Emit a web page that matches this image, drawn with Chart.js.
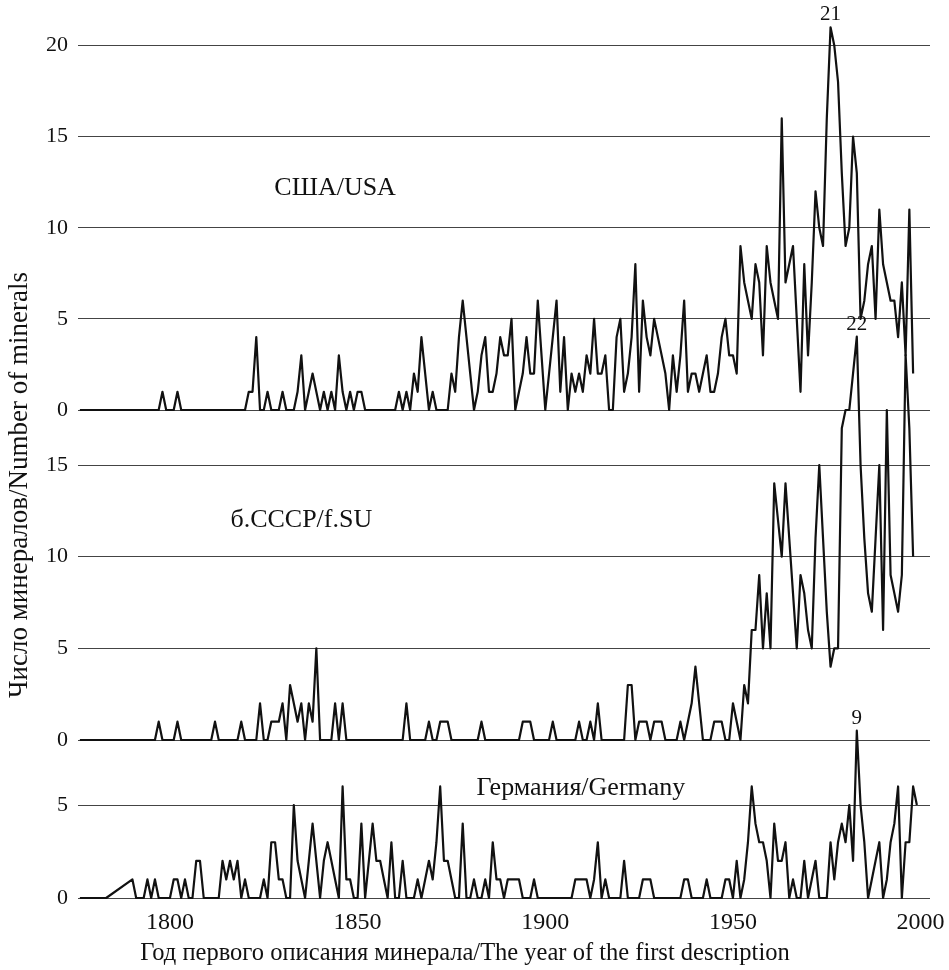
<!DOCTYPE html>
<html>
<head>
<meta charset="utf-8">
<script src="https://cdn.jsdelivr.net/npm/chart.js@4"></script>
<style>
  html, body { margin: 0; padding: 0; background: #fff; }
</style>
</head>
<body>
<canvas id="chart" width="949" height="970"></canvas>
<script>
// yearly counts, first value is 1776
const FIRST_YEAR = 1776;

const USA = [
  0, 0, 0, 0,                       // 1776-1779
  0, 0, 0, 0, 0, 0, 0, 0, 0, 0,     // 1780s
  0, 0, 0, 0, 0, 0, 0, 0, 1, 0,     // 1790s
  0, 0, 1, 0, 0, 0, 0, 0, 0, 0,     // 1800s
  0, 0, 0, 0, 0, 0, 0, 0, 0, 0,     // 1810s
  0, 1, 1, 4, 0, 0, 1, 0, 0, 0,     // 1820s
  1, 0, 0, 0, 1, 3, 0, 1, 2, 1,     // 1830s
  0, 1, 0, 1, 0, 3, 1, 0, 1, 0,     // 1840s
  1, 1, 0, 0, 0, 0, 0, 0, 0, 0,     // 1850s
  0, 1, 0, 1, 0, 2, 1, 4, 2, 0,     // 1860s
  1, 0, 0, 0, 0, 2, 1, 4, 6, 4,     // 1870s
  2, 0, 1, 3, 4, 1, 1, 2, 4, 3,     // 1880s
  3, 5, 0, 1, 2, 4, 2, 2, 6, 3,     // 1890s
  0, 2, 4, 6, 1, 4, 0, 2, 1, 2,     // 1900s
  1, 3, 2, 5, 2, 2, 3, 0, 0, 4,     // 1910s
  5, 1, 2, 4, 8, 1, 6, 4, 3, 5,     // 1920s
  4, 3, 2, 0, 3, 1, 3, 6, 1, 2,     // 1930s
  2, 1, 2, 3, 1, 1, 2, 4, 5, 3,     // 1940s
  3, 2, 9, 7, 6, 5, 8, 7, 3, 9,     // 1950s
  7, 6, 5, 16, 7, 8, 9, 5, 1, 8,    // 1960s
  3, 7, 12, 10, 9, 16, 21, 20, 18, 13, // 1970s
  9, 10, 15, 13, 5, 6, 8, 9, 5, 11, // 1980s
  8, 7, 6, 6, 4, 7, 3, 11, 2        // 1990-1998
];

const SU = [
  0, 0, 0, 0,
  0, 0, 0, 0, 0, 0, 0, 0, 0, 0,     // 1780s
  0, 0, 0, 0, 0, 0, 0, 1, 0, 0,     // 1790s
  0, 0, 1, 0, 0, 0, 0, 0, 0, 0,     // 1800s
  0, 0, 1, 0, 0, 0, 0, 0, 0, 1,     // 1810s
  0, 0, 0, 0, 2, 0, 0, 1, 1, 1,     // 1820s
  2, 0, 3, 2, 1, 2, 0, 2, 1, 5,     // 1830s
  0, 0, 0, 0, 2, 0, 2, 0, 0, 0,     // 1840s
  0, 0, 0, 0, 0, 0, 0, 0, 0, 0,     // 1850s
  0, 0, 0, 2, 0, 0, 0, 0, 0, 1,     // 1860s
  0, 0, 1, 1, 1, 0, 0, 0, 0, 0,     // 1870s
  0, 0, 0, 1, 0, 0, 0, 0, 0, 0,     // 1880s
  0, 0, 0, 0, 1, 1, 1, 0, 0, 0,     // 1890s
  0, 0, 1, 0, 0, 0, 0, 0, 0, 1,     // 1900s
  0, 0, 1, 0, 2, 0, 0, 0, 0, 0,     // 1910s
  0, 0, 3, 3, 0, 1, 1, 1, 0, 1,     // 1920s
  1, 1, 0, 0, 0, 0, 1, 0, 1, 2,     // 1930s
  4, 2, 0, 0, 0, 1, 1, 1, 0, 0,     // 1940s
  2, 1, 0, 3, 2, 6, 6, 9, 5, 8,     // 1950s
  5, 14, 12, 10, 14, 11, 8, 5, 9, 8, // 1960s
  6, 5, 11, 15, 11, 7, 4, 5, 5, 17, // 1970s
  18, 18, 20, 22, 15, 11, 8, 7, 11, 15, // 1980s
  6, 18, 9, 8, 7, 9, 21, 17, 10     // 1990-1998
];

// null = no year plotted (line joins across)
const GERMANY = [
  0, 0, 0, 0,
  0, 0, 0, 0, null, null, null, null, null, null, // 1780s
  1, 0, 0, 0, 1, 0, 1, 0, 0, 0,     // 1790s
  0, 1, 1, 0, 1, 0, 0, 2, 2, 0,     // 1800s
  0, 0, 0, 0, 2, 1, 2, 1, 2, 0,     // 1810s
  1, 0, 0, 0, 0, 1, 0, 3, 3, 1,     // 1820s
  1, 0, 0, 5, 2, 1, 0, 2, 4, 2,     // 1830s
  0, 2, 3, 2, 1, 0, 6, 1, 1, 0,     // 1840s
  0, 4, 0, 2, 4, 2, 2, 1, 0, 3,     // 1850s
  0, 0, 2, 0, 0, 0, 1, 0, 1, 2,     // 1860s
  1, 3, 6, 2, 2, 1, 0, 0, 4, 0,     // 1870s
  0, 1, 0, 0, 1, 0, 3, 1, 1, 0,     // 1880s
  1, 1, 1, 1, 0, 0, 0, 1, 0, 0,     // 1890s
  0, 0, 0, 0, 0, 0, 0, 0, 1, 1,     // 1900s
  1, 1, 0, 1, 3, 0, 1, 0, 0, 0,     // 1910s
  0, 2, 0, 0, 0, 0, 1, 1, 1, 0,     // 1920s
  0, 0, 0, 0, 0, 0, 0, 1, 1, 0,     // 1930s
  0, 0, 0, 1, 0, 0, 0, 0, 1, 1,     // 1940s
  0, 2, 0, 1, 3, 6, 4, 3, 3, 2,     // 1950s
  0, 4, 2, 2, 3, 0, 1, 0, 0, 2,     // 1960s
  0, 1, 2, 0, 0, 0, 3, 1, 3, 4,     // 1970s
  3, 5, 2, 9, 5, 3, 0, 1, 2, 3,     // 1980s
  0, 1, 3, 4, 6, 0, 3, 3, 6, 5      // 1990s
];

const X_TICKS = [1800, 1850, 1900, 1950, 2000];
const USA_TICKS = [0, 5, 10, 15, 20];
const SU_TICKS = [0, 5, 10, 15];
const GERMANY_TICKS = [0, 5];

const Y_TITLE = 'Число минералов/Number of minerals';
const X_TITLE = 'Год первого описания минерала/The year of the first description';

// text written on the plot: series names and peak values
const NOTES = [
  { text: 'США/USA', axis: 'yUSA', year: 1844, value: 12.2 },
  { text: 'б.СССР/f.SU', axis: 'ySU', year: 1835, value: 12 },
  { text: 'Германия/Germany', axis: 'yDE', year: 1909.5, value: 5.9 },
  { text: '21', axis: 'yUSA', year: 1976, value: 21, peak: true },
  { text: '22', axis: 'ySU', year: 1983, value: 22, peak: true },
  { text: '9', axis: 'yDE', year: 1983, value: 9, peak: true }
];

const SERIF = '"Liberation Serif", "Times New Roman", serif';
const INK = '#111';

function toPoints(values) {
  return values.map(function (v, i) { return { x: FIRST_YEAR + i, y: v }; });
}

function fixedTicks(list) {
  return function (scale) {
    scale.ticks = list.map(function (v) { return { value: v }; });
  };
}

function lineSet(label, values, axis) {
  return {
    label: label,
    data: toPoints(values),
    yAxisID: axis,
    borderColor: INK,
    borderWidth: 2.2,
    borderJoinStyle: 'round',
    pointRadius: 0,
    tension: 0,
    spanGaps: true,
    fill: false,
    clip: false
  };
}

function panelAxis(min, max, ticks, weight, order) {
  return {
    type: 'linear',
    position: 'left',
    stack: 'panels',
    stackWeight: weight,
    weight: order,
    min: min,
    max: max,
    afterBuildTicks: fixedTicks(ticks),
    afterFit: function (scale) {
      scale.width = 41.8;
      scale.paddingTop = 0;
      scale.paddingBottom = 0;
    },
    grid: { color: '#444', lineWidth: 1, drawTicks: false },
    border: { display: false },
    ticks: {
      color: INK,
      padding: 10,
      font: { family: SERIF, size: 22 },
      callback: function (v) { return String(v); }
    }
  };
}

const notesPlugin = {
  id: 'notes',
  afterDraw: function (chart) {
    const ctx = chart.ctx;
    const x = chart.scales.x;
    ctx.save();
    ctx.fillStyle = INK;
    ctx.textAlign = 'center';
    NOTES.forEach(function (n) {
      const px = x.getPixelForValue(n.year);
      const py = chart.scales[n.axis].getPixelForValue(n.value);
      if (n.peak) {
        ctx.font = '21px ' + SERIF;
        ctx.textBaseline = 'bottom';
        ctx.fillText(n.text, px, py - 2);
      } else {
        ctx.font = '26px ' + SERIF;
        ctx.textBaseline = 'middle';
        ctx.fillText(n.text, px, py);
      }
    });
    ctx.restore();
  }
};

new Chart(document.getElementById('chart'), {
  type: 'line',
  data: {
    datasets: [
      lineSet('США/USA', USA, 'yUSA'),
      lineSet('б.СССР/f.SU', SU, 'ySU'),
      lineSet('Германия/Germany', GERMANY, 'yDE')
    ]
  },
  options: {
    responsive: false,
    animation: false,
    layout: { padding: { top: 0, right: 19, bottom: 0, left: 0 } },
    scales: {
      x: {
        type: 'linear',
        min: 1775.5,
        max: 2002.5,
        afterBuildTicks: fixedTicks(X_TICKS),
        afterFit: function (scale) {
          scale.height = 40.6;
          scale.paddingLeft = 0;
          scale.paddingRight = 0;
        },
        grid: { display: false },
        border: { display: false },
        ticks: {
          color: INK,
          padding: 2,
          font: { family: SERIF, size: 24 },
          maxRotation: 0,
          callback: function (v) { return String(v); }
        }
      },
      yUSA: panelAxis(0, 22.5, USA_TICKS, 410, 3),
      ySU: panelAxis(0, 18, SU_TICKS, 330, 2),
      yDE: panelAxis(0, 8.5, GERMANY_TICKS, 158, 1)
    },
    plugins: {
      legend: { display: false },
      tooltip: { enabled: false },
      title: {
        display: true,
        text: Y_TITLE,
        position: 'left',
        color: INK,
        font: { family: SERIF, size: 27, weight: 'normal' },
        padding: { top: 3.8, bottom: 0 }
      },
      subtitle: {
        display: true,
        text: X_TITLE,
        position: 'bottom',
        color: INK,
        font: { family: SERIF, size: 24.5, weight: 'normal' },
        padding: { top: 0, bottom: 2 }
      }
    }
  },
  plugins: [notesPlugin]
});
</script>
</body>
</html>
